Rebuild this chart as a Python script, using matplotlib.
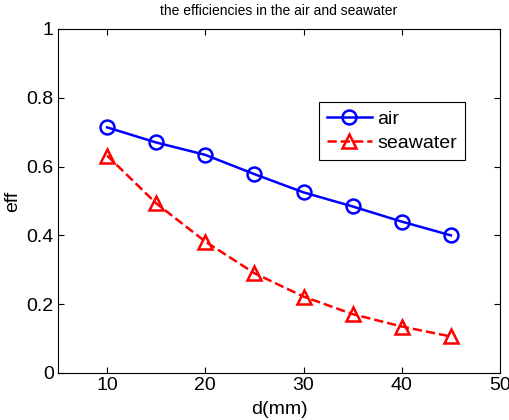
import matplotlib
matplotlib.use('Agg')
import matplotlib.pyplot as plt

plt.rcParams['font.family'] = ['Liberation Sans', 'DejaVu Sans']

d = [10, 15, 20, 25, 30, 35, 40, 45]
eff_air = [0.714, 0.670, 0.634, 0.578, 0.525, 0.484, 0.440, 0.400]
eff_sea = [0.632, 0.493, 0.382, 0.290, 0.222, 0.171, 0.135, 0.106]
xticks = [10, 20, 30, 40, 50]
yticks = [0, 0.2, 0.4, 0.6, 0.8, 1]

fig = plt.figure(figsize=(5.1, 4.2), dpi=100)
ax = fig.add_axes([0.1137, 0.112, 0.8667, 0.819])

ax.plot(d, eff_air, '-o', color='#0000ff', lw=1.8, ms=10, mfc='none', mew=1.8, label='air')
ax.plot(d, eff_sea, '--^', color='#ff0000', lw=1.8, ms=10, mfc='none', mew=1.8, label='seawater')

ax.set_xlim(5, 50)
ax.set_ylim(0, 1)
ax.set_xticks(xticks)
ax.set_yticks(yticks)
ax.set_yticklabels(['0', '0.2', '0.4', '0.6', '0.8', '1'])
ax.tick_params(direction='in', top=True, right=True, labelsize=14, length=4, width=0.8, pad=3)
for s in ax.spines.values():
    s.set_linewidth(0.8)

ax.set_xlabel('d(mm)', fontsize=14, labelpad=5)
ax.set_ylabel('eff', fontsize=14, labelpad=4)
ax.set_title('the efficiencies in the air and seawater', fontsize=10, pad=10)

leg = ax.legend(loc='upper right', bbox_to_anchor=(0.921, 0.787), fontsize=14,
                fancybox=False, edgecolor='black', framealpha=1, borderaxespad=0,
                handlelength=2.3, handletextpad=0.3, borderpad=0.4, labelspacing=0.35)
leg.get_frame().set_linewidth(0.8)

fig.savefig('out.png', dpi=100)
